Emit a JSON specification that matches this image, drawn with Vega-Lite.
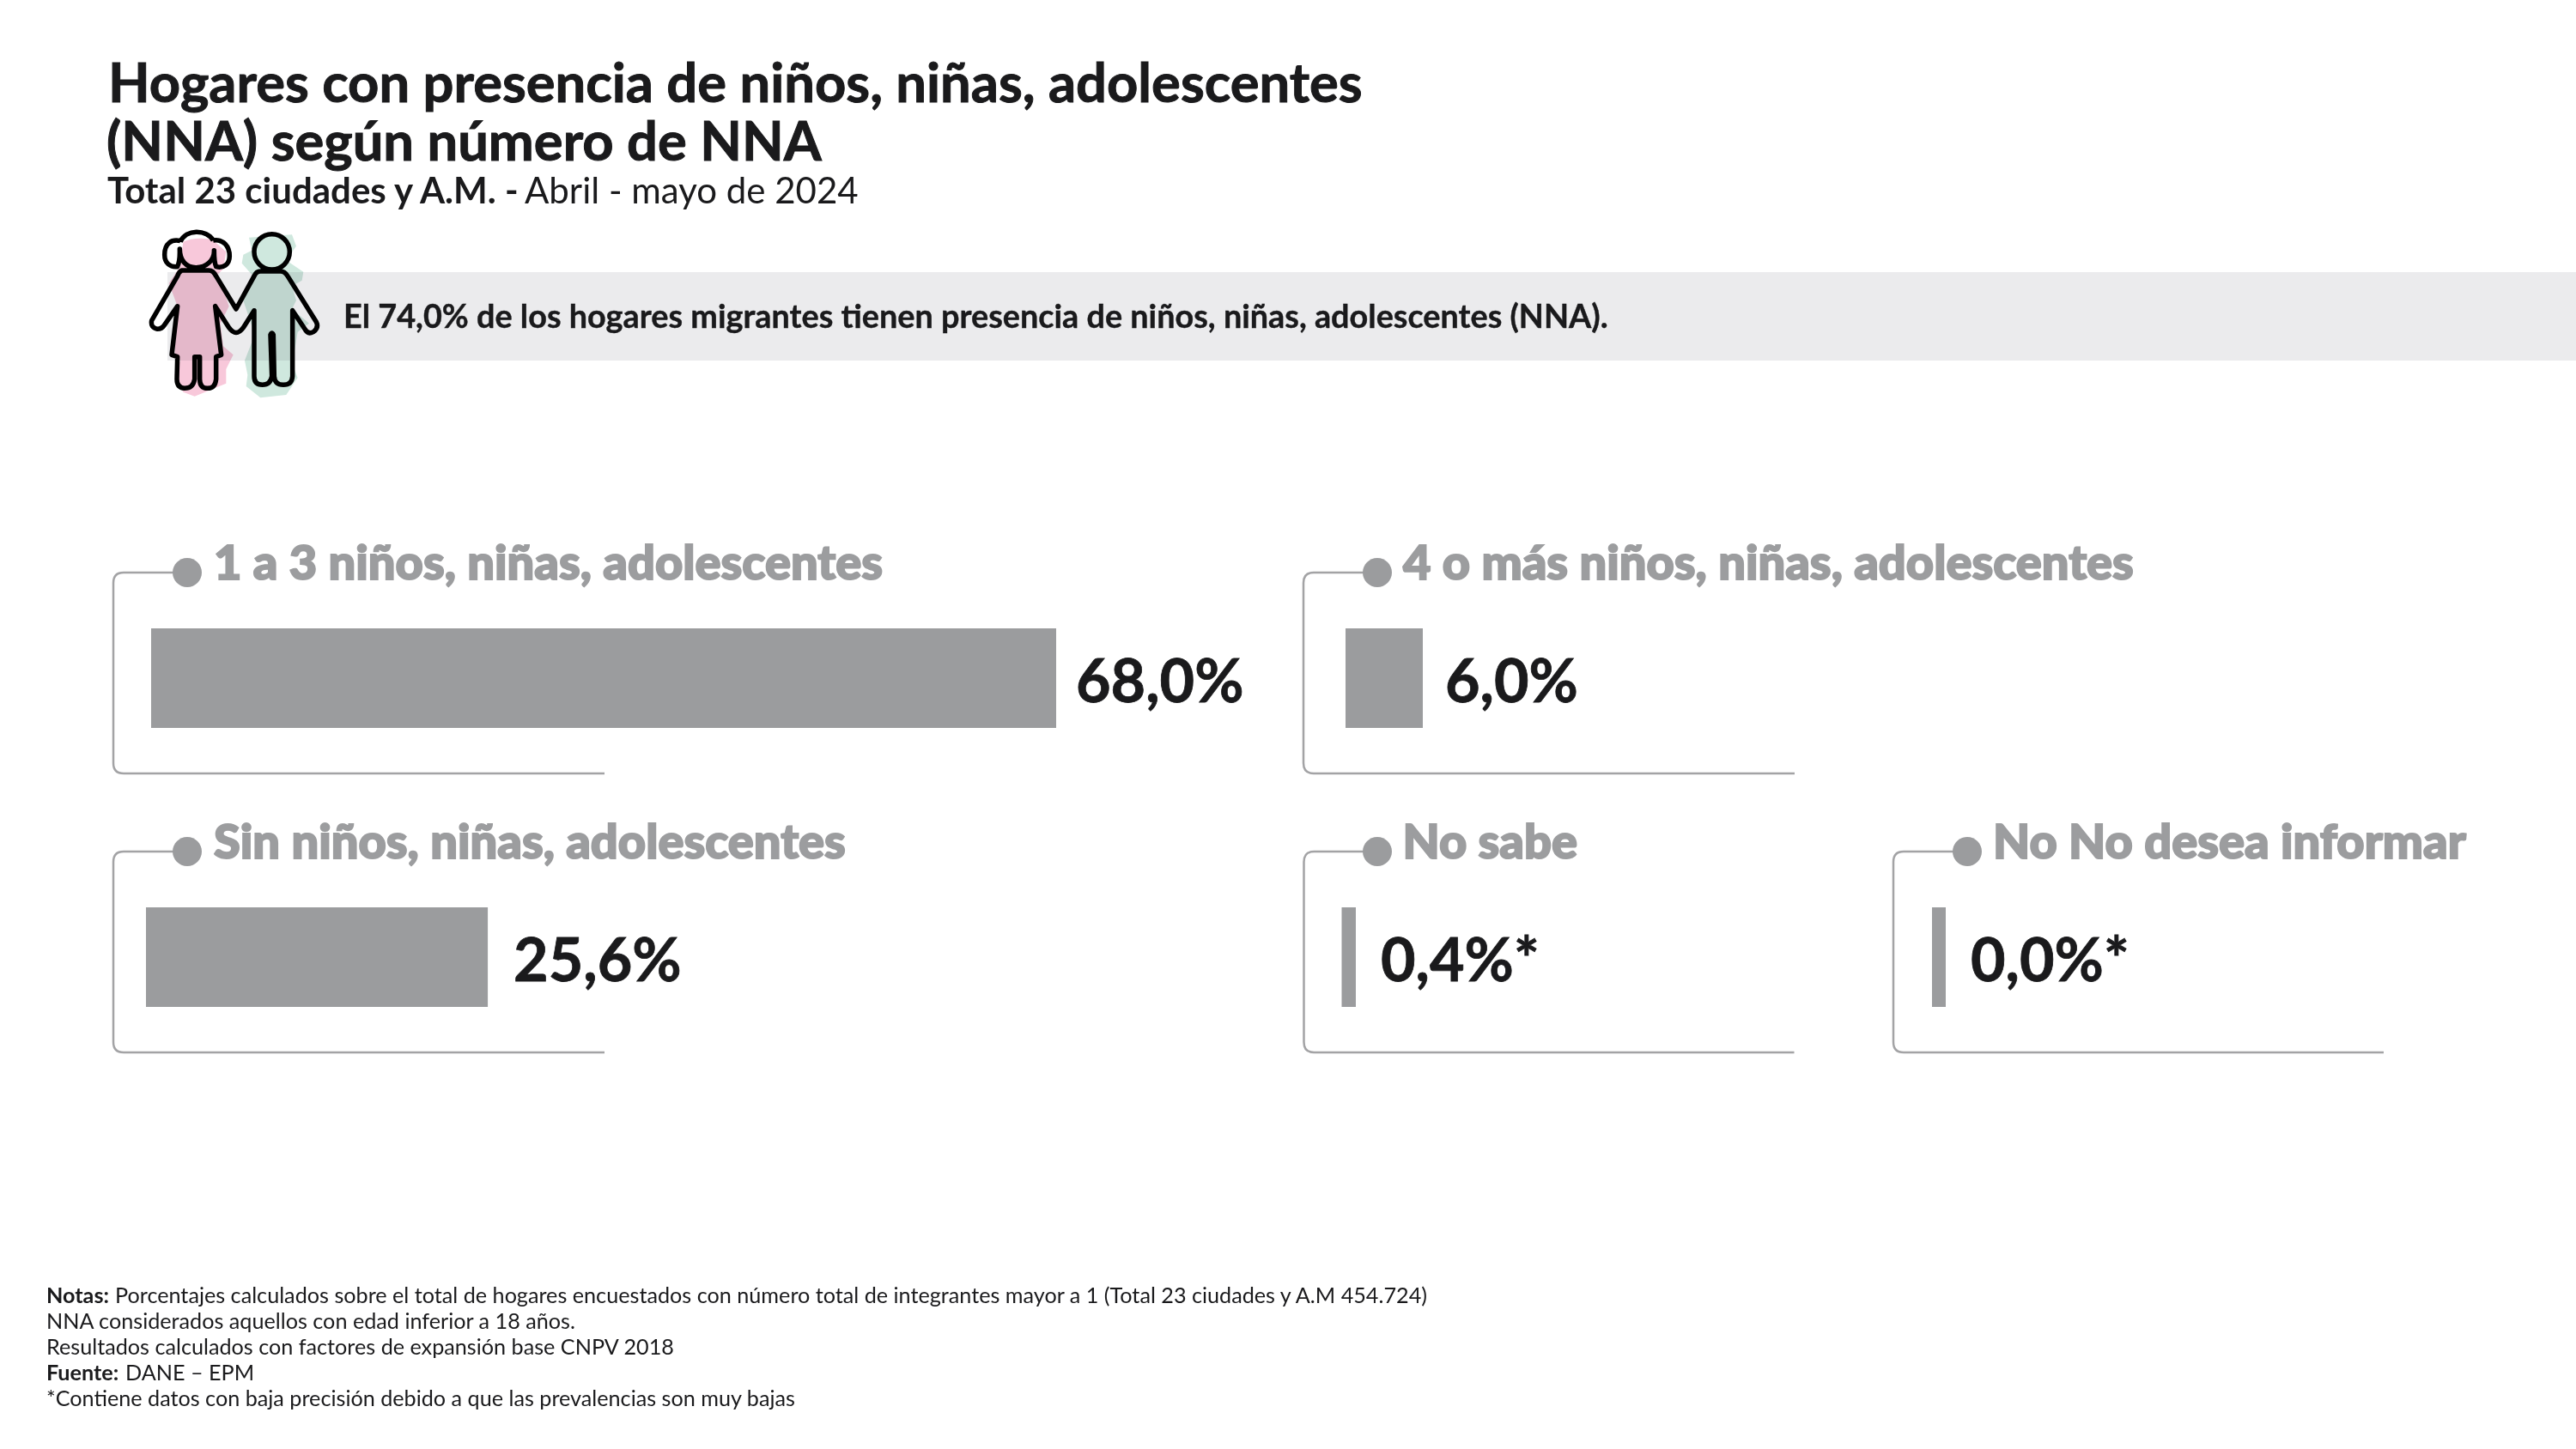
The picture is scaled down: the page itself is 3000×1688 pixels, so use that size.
{
"$schema":"https://vega.github.io/schema/vega-lite/v6.json",
"padding":0,"background":"#ffffff",
"config":{"view":{"stroke":null},"text":{"font":"Lato"}},
"datasets":{
"panels":[
{"cat":"1 a 3 niños, niñas, adolescentes","value":68.0,"label":"68,0%"},
{"cat":"4 o más niños, niñas, adolescentes","value":6.0,"label":"6,0%"},
{"cat":"Sin niños, niñas, adolescentes","value":25.6,"label":"25,6%"},
{"cat":"No sabe","value":0.4,"label":"0,4%*"},
{"cat":"No No desea informar","value":0.0,"label":"0,0%*"}
],
"notes":[
{"line":1,"lead":"Notas:","text":"Porcentajes calculados sobre el total de hogares encuestados con número total de integrantes mayor a 1 (Total 23 ciudades y A.M 454.724)"},
{"line":2,"lead":"","text":"NNA considerados aquellos con edad inferior a 18 años."},
{"line":3,"lead":"","text":"Resultados calculados con factores de expansión base CNPV 2018"},
{"line":4,"lead":"Fuente:","text":"DANE – EPM"},
{"line":5,"lead":"","text":"*Contiene datos con baja precisión debido a que las prevalencias son muy bajas"}
]},
"vconcat":[
{"width":3000,"height":600,
"encoding":{
"x":{"type":"quantitative","scale":{"domain":[0,3000],"range":[0,3000],"nice":false,"zero":false},"axis":null},
"y":{"type":"quantitative","scale":{"domain":[0,600],"range":[0,600],"nice":false,"zero":false},"axis":null}},
"layer":[
{"data":{"values":[{"t":"Hogares con presencia de niños, niñas, adolescentes"}]},"mark":{"type":"text","align":"left","baseline":"alphabetic","fontSize":63.3,"fontWeight":700,"fill":"#1a1a1c","stroke":"#1a1a1c","strokeWidth":1},"encoding":{"x":{"datum":126},"y":{"datum":119},"text":{"field":"t"}}},
{"data":{"values":[{"t":"(NNA) según número de NNA"}]},"mark":{"type":"text","align":"left","baseline":"alphabetic","fontSize":63.3,"fontWeight":700,"fill":"#1a1a1c","stroke":"#1a1a1c","strokeWidth":1},"encoding":{"x":{"datum":124},"y":{"datum":187},"text":{"field":"t"}}},
{"data":{"values":[{"t":"Total 23 ciudades y A.M. -"}]},"mark":{"type":"text","align":"left","baseline":"alphabetic","fontSize":42,"fontWeight":700,"fill":"#1a1a1c"},"encoding":{"x":{"datum":125},"y":{"datum":237},"text":{"field":"t"}}},
{"data":{"values":[{"t":"Abril - mayo de 2024"}]},"mark":{"type":"text","align":"left","baseline":"alphabetic","fontSize":42,"fontWeight":400,"fill":"#1a1a1c"},"encoding":{"x":{"datum":611},"y":{"datum":237},"text":{"field":"t"}}},
{"data":{"values":[{"band":1}]},"mark":{"type":"rect","fill":"#ebebed"},"encoding":{"x":{"datum":195},"x2":{"datum":3000},"y":{"datum":317},"y2":{"datum":420}}},
{"data":{"values":[{"t":"El 74,0% de los hogares migrantes tienen presencia de niños, niñas, adolescentes (NNA)."}]},"mark":{"type":"text","align":"left","baseline":"alphabetic","fontSize":37.8,"fontWeight":700,"fill":"#1a1a1c","stroke":"#1a1a1c","strokeWidth":0.4},"encoding":{"x":{"datum":400},"y":{"datum":382},"text":{"field":"t"}}},
{"data":{"values":[{"part":"niña"}]},"mark":{"type":"point","filled":true,"opacity":1,"size":0.4444,"fill":"#f8c8da","blend":"multiply","strokeWidth":0,"shape":"M160,95 C190,80 240,80 265,90 L310,130 L300,190 L280,210 L300,260 L320,320 L290,380 L300,460 L335,490 L310,540 L310,590 L200,635 L160,620 L130,560 L150,510 L130,490 L140,320 L110,240 L150,180 Z"},"encoding":{"x":{"datum":160},"y":{"datum":250}}},
{"data":{"values":[{"part":"niño"}]},"mark":{"type":"point","filled":true,"opacity":1,"size":0.4444,"fill":"#cfe8de","blend":"multiply","strokeWidth":0,"shape":"M390,80 L540,70 L555,110 L520,160 L580,200 L575,230 L540,250 L555,300 L540,330 L600,380 L560,410 L550,470 L540,520 L560,570 L520,630 L430,640 L380,600 L385,560 L375,510 L410,420 L370,300 L400,210 L365,170 L370,140 L400,125 Z"},"encoding":{"x":{"datum":160},"y":{"datum":250}}},
{"data":{"values":[{"part":"contorno"}]},"mark":{"type":"point","filled":false,"opacity":1,"size":0.4444,"stroke":"#000000","strokeWidth":5.5,"strokeJoin":"round","shape":"M155,195 L250,195 C262,195 270,205 275,215 L345,330 L408,215 Q415,198 430,198 L500,198 Q515,198 525,215 L625,375 Q635,395 615,410 Q595,420 585,400 L542,335 L542,565 Q540,595 510,595 Q480,595 478,565 L475,420 Q470,408 465,420 L470,565 Q465,595 437,595 Q408,595 408,565 L408,335 L370,395 Q345,430 320,395 L272,320 L293,490 L275,497 L275,575 Q272,607 245,607 Q218,607 218,575 L218,497 L200,497 L200,575 Q195,607 165,607 Q138,605 138,575 L140,497 L120,490 L140,320 L95,385 Q85,400 70,400 Q45,395 50,370 L140,215 Q145,200 155,195 Z M150,95 C170,50 240,50 265,90 M150,92 C120,85 95,100 95,140 C95,170 115,185 140,182 C150,160 148,140 148,120 C148,160 170,185 205,185 C240,185 270,160 268,125 C268,150 270,170 275,182 C300,188 322,175 322,145 C322,110 300,85 265,90 M408,130 a62,62 0 1,0 124,0 a62,62 0 1,0 -124,0"},"encoding":{"x":{"datum":160},"y":{"datum":250}}}
]},
{"hconcat":[
{"width":1518,"height":325,"data":{"name":"panels"},"transform":[{"filter":"datum.cat == '1 a 3 niños, niñas, adolescentes'"}],
"encoding":{"x":{"field":"value","type":"quantitative","scale":{"domain":[0,100],"range":[176,1726],"nice":false,"zero":false},"axis":null},"y":{"field":"cat","type":"nominal","scale":{"range":[132,248],"paddingInner":0,"paddingOuter":0},"axis":null}},
"layer":[
{"mark":{"type":"point","filled":false,"opacity":1,"size":4,"stroke":"#a3a3a5","strokeWidth":2.5,"shape":"M42,-123 L-32,-123 Q-44,-123 -44,-111 L-44,99 Q-44,111 -32,111 L528,111"},"encoding":{"x":{"datum":0}}},
{"mark":{"type":"point","filled":true,"opacity":1,"size":4,"fill":"#9b9c9e","strokeWidth":0,"shape":"M25,-123 a17,17 0 1,0 34,0 a17,17 0 1,0 -34,0"},"encoding":{"x":{"datum":0}}},
{"mark":{"type":"bar","fill":"#9b9c9e"},"encoding":{"x2":{"datum":0}}},
{"mark":{"type":"text","align":"left","baseline":"alphabetic","fontSize":56,"fontWeight":900,"fill":"#9c9d9f","stroke":"#9c9d9f","strokeWidth":2,"dx":73,"dy":-115},"encoding":{"x":{"datum":0},"text":{"field":"cat"}}},
{"mark":{"type":"text","align":"left","baseline":"alphabetic","fontSize":70,"fontWeight":700,"fill":"#1a1a1c","stroke":"#1a1a1c","strokeWidth":0.8,"dx":23,"dy":28},"encoding":{"text":{"field":"label"}}}
]},
{"width":1482,"height":325,"data":{"name":"panels"},"transform":[{"filter":"datum.cat == '4 o más niños, niñas, adolescentes'"}],
"encoding":{"x":{"field":"value","type":"quantitative","scale":{"domain":[0,100],"range":[49,1549],"nice":false,"zero":false},"axis":null},"y":{"field":"cat","type":"nominal","scale":{"range":[132,248],"paddingInner":0,"paddingOuter":0},"axis":null}},
"layer":[
{"mark":{"type":"point","filled":false,"opacity":1,"size":4,"stroke":"#a3a3a5","strokeWidth":2.5,"shape":"M37,-123 L-37,-123 Q-49,-123 -49,-111 L-49,99 Q-49,111 -37,111 L523,111"},"encoding":{"x":{"datum":0}}},
{"mark":{"type":"point","filled":true,"opacity":1,"size":4,"fill":"#9b9c9e","strokeWidth":0,"shape":"M20,-123 a17,17 0 1,0 34,0 a17,17 0 1,0 -34,0"},"encoding":{"x":{"datum":0}}},
{"mark":{"type":"bar","fill":"#9b9c9e"},"encoding":{"x2":{"datum":0}}},
{"mark":{"type":"text","align":"left","baseline":"alphabetic","fontSize":56,"fontWeight":900,"fill":"#9c9d9f","stroke":"#9c9d9f","strokeWidth":2,"dx":67,"dy":-115},"encoding":{"x":{"datum":0},"text":{"field":"cat"}}},
{"mark":{"type":"text","align":"left","baseline":"alphabetic","fontSize":70,"fontWeight":700,"fill":"#1a1a1c","stroke":"#1a1a1c","strokeWidth":0.8,"dx":26,"dy":28},"encoding":{"text":{"field":"label"}}}
]}
],"spacing":0,"bounds":"flush"},
{"hconcat":[
{"width":1518,"height":325,"data":{"name":"panels"},"transform":[{"filter":"datum.cat == 'Sin niños, niñas, adolescentes'"}],
"encoding":{"x":{"field":"value","type":"quantitative","scale":{"domain":[0,100],"range":[170,1725],"nice":false,"zero":false},"axis":null},"y":{"field":"cat","type":"nominal","scale":{"range":[132,248],"paddingInner":0,"paddingOuter":0},"axis":null}},
"layer":[
{"mark":{"type":"point","filled":false,"opacity":1,"size":4,"stroke":"#a3a3a5","strokeWidth":2.5,"shape":"M48,-123 L-26,-123 Q-38,-123 -38,-111 L-38,99 Q-38,111 -26,111 L534,111"},"encoding":{"x":{"datum":0}}},
{"mark":{"type":"point","filled":true,"opacity":1,"size":4,"fill":"#9b9c9e","strokeWidth":0,"shape":"M31,-123 a17,17 0 1,0 34,0 a17,17 0 1,0 -34,0"},"encoding":{"x":{"datum":0}}},
{"mark":{"type":"bar","fill":"#9b9c9e"},"encoding":{"x2":{"datum":0}}},
{"mark":{"type":"text","align":"left","baseline":"alphabetic","fontSize":56,"fontWeight":900,"fill":"#9c9d9f","stroke":"#9c9d9f","strokeWidth":2,"dx":79,"dy":-115},"encoding":{"x":{"datum":0},"text":{"field":"cat"}}},
{"mark":{"type":"text","align":"left","baseline":"alphabetic","fontSize":70,"fontWeight":700,"fill":"#1a1a1c","stroke":"#1a1a1c","strokeWidth":0.8,"dx":30,"dy":28},"encoding":{"text":{"field":"label"}}}
]},
{"width":687,"height":325,"data":{"name":"panels"},"transform":[{"filter":"datum.cat == 'No sabe'"}],
"encoding":{"x":{"field":"value","type":"quantitative","scale":{"domain":[0,100],"range":[44.5,1664.5],"nice":false,"zero":false},"axis":null},"y":{"field":"cat","type":"nominal","scale":{"range":[132,248],"paddingInner":0,"paddingOuter":0},"axis":null}},
"layer":[
{"mark":{"type":"point","filled":false,"opacity":1,"size":4,"stroke":"#a3a3a5","strokeWidth":2.5,"shape":"M41,-123 L-32,-123 Q-44,-123 -44,-111 L-44,99 Q-44,111 -32,111 L527,111"},"encoding":{"x":{"datum":0}}},
{"mark":{"type":"point","filled":true,"opacity":1,"size":4,"fill":"#9b9c9e","strokeWidth":0,"shape":"M24.5,-123 a17,17 0 1,0 34,0 a17,17 0 1,0 -34,0"},"encoding":{"x":{"datum":0}}},
{"mark":{"type":"bar","fill":"#9b9c9e","xOffset":10},"encoding":{"x2":{"datum":0}}},
{"mark":{"type":"text","align":"left","baseline":"alphabetic","fontSize":56,"fontWeight":900,"fill":"#9c9d9f","stroke":"#9c9d9f","strokeWidth":2,"dx":71,"dy":-115},"encoding":{"x":{"datum":0},"text":{"field":"cat"}}},
{"mark":{"type":"text","align":"left","baseline":"alphabetic","fontSize":70,"fontWeight":700,"fill":"#1a1a1c","stroke":"#1a1a1c","strokeWidth":0.8,"dx":39,"dy":28},"encoding":{"text":{"field":"label"}}}
]},
{"width":795,"height":325,"data":{"name":"panels"},"transform":[{"filter":"datum.cat == 'No No desea informar'"}],
"encoding":{"x":{"field":"value","type":"quantitative","scale":{"domain":[0,100],"range":[45,1665],"nice":false,"zero":false},"axis":null},"y":{"field":"cat","type":"nominal","scale":{"range":[132,248],"paddingInner":0,"paddingOuter":0},"axis":null}},
"layer":[
{"mark":{"type":"point","filled":false,"opacity":1,"size":4,"stroke":"#a3a3a5","strokeWidth":2.5,"shape":"M41,-123 L-33,-123 Q-45,-123 -45,-111 L-45,99 Q-45,111 -33,111 L526,111"},"encoding":{"x":{"datum":0}}},
{"mark":{"type":"point","filled":true,"opacity":1,"size":4,"fill":"#9b9c9e","strokeWidth":0,"shape":"M24,-123 a17,17 0 1,0 34,0 a17,17 0 1,0 -34,0"},"encoding":{"x":{"datum":0}}},
{"mark":{"type":"bar","fill":"#9b9c9e","xOffset":16},"encoding":{"x2":{"datum":0}}},
{"mark":{"type":"text","align":"left","baseline":"alphabetic","fontSize":56,"fontWeight":900,"fill":"#9c9d9f","stroke":"#9c9d9f","strokeWidth":2,"dx":71,"dy":-115},"encoding":{"x":{"datum":0},"text":{"field":"cat"}}},
{"mark":{"type":"text","align":"left","baseline":"alphabetic","fontSize":70,"fontWeight":700,"fill":"#1a1a1c","stroke":"#1a1a1c","strokeWidth":0.8,"dx":45,"dy":28},"encoding":{"text":{"field":"label"}}}
]}
],"spacing":0,"bounds":"flush"},
{"width":3000,"height":438,
"data":{"name":"notes"},
"encoding":{
"x":{"datum":54,"type":"quantitative","scale":{"domain":[0,3000],"range":[0,3000],"nice":false,"zero":false},"axis":null},
"y":{"field":"line","type":"ordinal","scale":{"type":"point","range":[268,388],"padding":0},"axis":null}},
"layer":[
{"mark":{"type":"text","align":"left","baseline":"alphabetic","fontSize":25.2,"fontWeight":700,"fill":"#1a1a1c"},"encoding":{"text":{"field":"lead"}}},
{"transform":[{"filter":"datum.line == 1"}],"mark":{"type":"text","align":"left","baseline":"alphabetic","fontSize":25.2,"fill":"#1a1a1c","dx":80},"encoding":{"text":{"field":"text"}}},
{"transform":[{"filter":"datum.line == 4"}],"mark":{"type":"text","align":"left","baseline":"alphabetic","fontSize":25.2,"fill":"#1a1a1c","dx":92},"encoding":{"text":{"field":"text"}}},
{"transform":[{"filter":"datum.line != 1 && datum.line != 4"}],"mark":{"type":"text","align":"left","baseline":"alphabetic","fontSize":25.2,"fill":"#1a1a1c"},"encoding":{"text":{"field":"text"}}}
]}
],"spacing":0
}
